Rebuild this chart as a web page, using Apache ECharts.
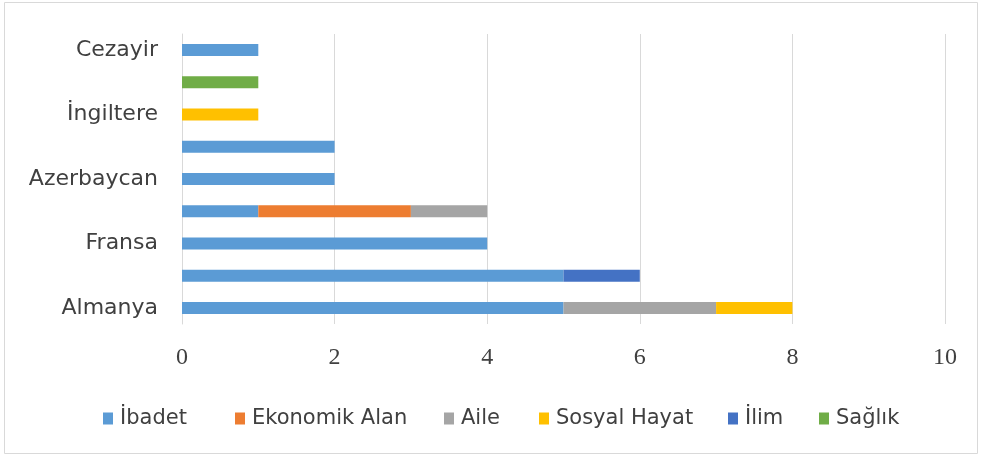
<!DOCTYPE html>
<html>
<head>
<meta charset="utf-8">
<script src="https://cdn.jsdelivr.net/npm/echarts@6/dist/echarts.min.js"></script>
<style>
  html, body { margin: 0; padding: 0; background: #fff; }
  #main { width: 982px; height: 459px; }
</style>
</head>
<body>
<div id="main"></div>
<script>
// countries from bottom to top (only every other one is labelled in the picture)
var countries = ['Almanya', 'Belçika', 'Fransa', 'Hollanda', 'Azerbaycan', 'Avusturya', 'İngiltere', 'ABD', 'Cezayir'];

var ibadet    = [5, 5, 4, 1, 2, 2, 0, 0, 1];
var ekonomik  = [0, 0, 0, 2, 0, 0, 0, 0, 0];
var aile      = [2, 0, 0, 1, 0, 0, 0, 0, 0];
var sosyal    = [1, 0, 0, 0, 0, 0, 1, 0, 0];
var ilim      = [0, 1, 0, 0, 0, 0, 0, 0, 0];
var saglik    = [0, 0, 0, 0, 0, 0, 0, 1, 0];

var seriesNames = ['İbadet', 'Ekonomik Alan', 'Aile', 'Sosyal Hayat', 'İlim', 'Sağlık'];
var xTicks = [0, 2, 4, 6, 8, 10];

var colors = ['#5B9BD5', '#ED7D31', '#A5A5A5', '#FFC000', '#4472C4', '#70AD47'];
// left edge of each legend entry
var legendLeft = [103, 235, 444, 539, 728, 819];

function bar(name, data) {
  return {
    name: name,
    type: 'bar',
    stack: 'total',
    barWidth: 12,
    data: data.map(function (v) { return v === 0 ? null : v; })
  };
}

var legends = seriesNames.map(function (n, i) {
  return {
    left: legendLeft[i],
    top: 408,
    padding: 0,
    itemWidth: 10,
    itemHeight: 12,
    icon: 'rect',
    textStyle: { fontFamily: 'DejaVu Sans', fontSize: 21, color: '#404040', padding: [0, 0, 0, 2] },
    data: [n]
  };
});

var myChart = echarts.init(document.getElementById('main'));
myChart.setOption({
  animation: false,
  color: colors,
  graphic: [{
    type: 'rect',
    shape: { x: 4.5, y: 2.5, width: 973, height: 451 },
    style: { fill: 'none', stroke: '#d9d9d9', lineWidth: 1 },
    silent: true
  }],
  grid: { left: 182, right: 37, top: 34, height: 290 },
  legend: legends,
  xAxis: {
    type: 'value',
    min: xTicks[0],
    max: xTicks[xTicks.length - 1],
    interval: 2,
    axisLine: { show: false },
    axisTick: { show: false },
    splitLine: { lineStyle: { color: '#d9d9d9', width: 1 } },
    axisLabel: { fontFamily: 'Liberation Serif', fontSize: 24, color: '#404040', margin: 22 }
  },
  yAxis: {
    type: 'category',
    data: countries,
    axisLine: { lineStyle: { color: '#d9d9d9' } },
    axisTick: { show: false },
    axisLabel: {
      interval: 1,
      fontFamily: 'DejaVu Sans',
      fontSize: 22,
      color: '#404040',
      margin: 24
    }
  },
  series: seriesNames.map(function (n, i) {
    return bar(n, [ibadet, ekonomik, aile, sosyal, ilim, saglik][i]);
  })
});
</script>
</body>
</html>
